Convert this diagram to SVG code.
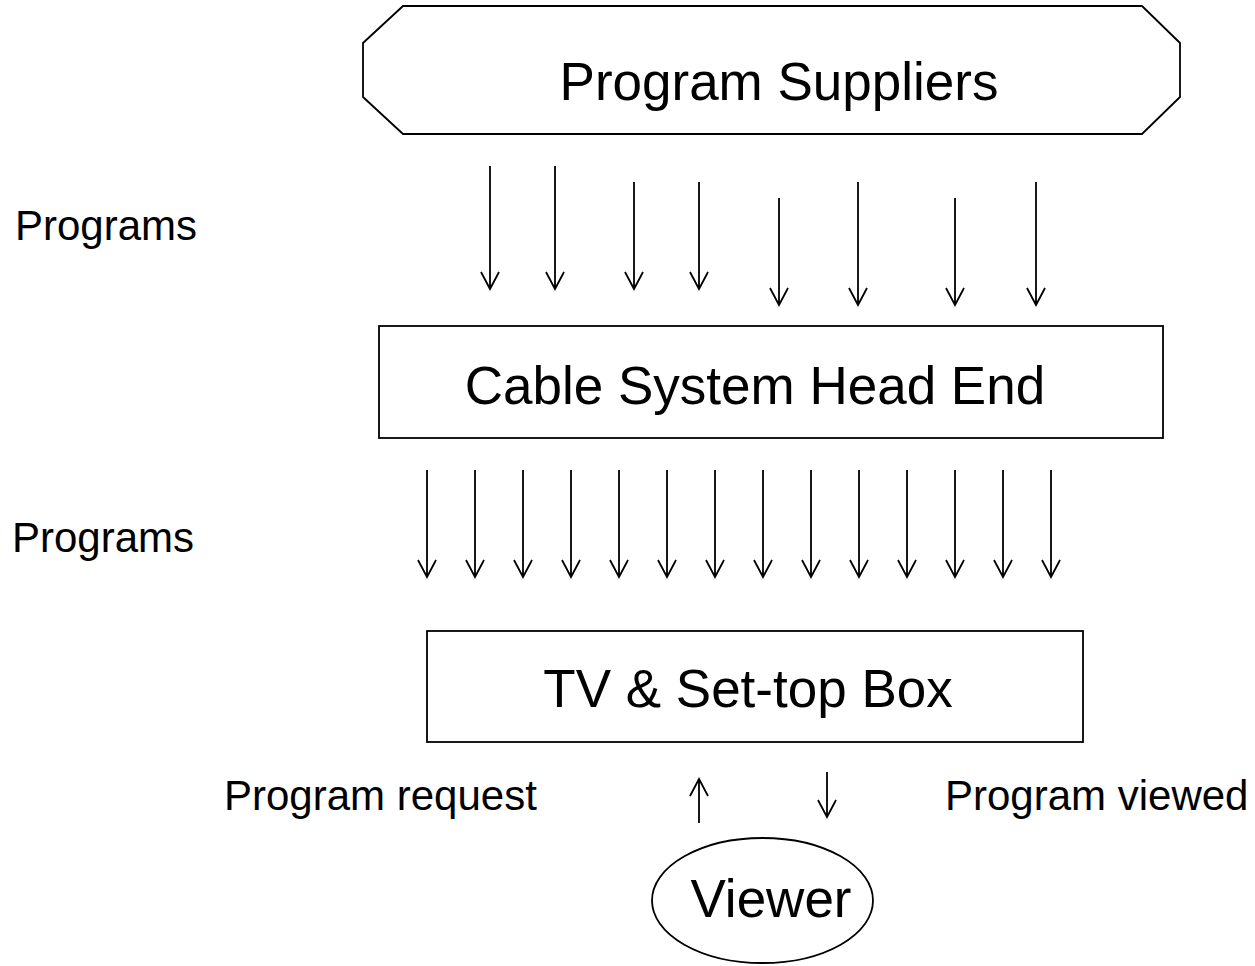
<svg xmlns="http://www.w3.org/2000/svg" width="1255" height="966" viewBox="0 0 1255 966">
<style>
.shape{fill:#fff;stroke:#000;stroke-width:1.8}
.big{font-family:"Liberation Sans",Arial,sans-serif;font-size:53px;fill:#000;text-anchor:middle}
.small{font-family:"Liberation Sans",Arial,sans-serif;font-size:42px;fill:#000}
.arr{fill:none;stroke:#000;stroke-width:1.8}
</style>
<rect width="1255" height="966" fill="#fff"/>
<g id="program-suppliers">
<polygon class="shape" points="403,6 1142,6 1180,43 1180,97 1142,134 403,134 363,97 363,43"/>
<text class="big" x="779" y="100">Program Suppliers</text>
</g>
<g id="cable-head-end">
<rect class="shape" x="379" y="326" width="784" height="112"/>
<text class="big" x="755" y="404">Cable System Head End</text>
</g>
<g id="tv-settop">
<rect class="shape" x="427" y="631" width="656" height="111"/>
<text class="big" x="748" y="707">TV &amp; Set-top Box</text>
</g>
<g id="viewer">
<ellipse class="shape" cx="762.5" cy="900.5" rx="110.5" ry="62.5"/>
<text class="big" x="771" y="917">Viewer</text>
</g>
<g id="labels">
<text class="small" x="15" y="240">Programs</text>
<text class="small" x="12" y="552">Programs</text>
<text class="small" x="224" y="810">Program request</text>
<text class="small" x="945" y="810">Program viewed</text>
</g>
<g id="connectors" class="arr">
<path d="M490,166V289M481,272L490,289L499,272"/>
<path d="M555,166V289M546,272L555,289L564,272"/>
<path d="M634,182V289M625,272L634,289L643,272"/>
<path d="M699,182V289M690,272L699,289L708,272"/>
<path d="M779,198V305M770,288L779,305L788,288"/>
<path d="M858,182V305M849,288L858,305L867,288"/>
<path d="M955,198V305M946,288L955,305L964,288"/>
<path d="M1036,182V305M1027,288L1036,305L1045,288"/>
<path d="M427,470V577M418,560L427,577L436,560"/>
<path d="M475,470V577M466,560L475,577L484,560"/>
<path d="M523,470V577M514,560L523,577L532,560"/>
<path d="M571,470V577M562,560L571,577L580,560"/>
<path d="M619,470V577M610,560L619,577L628,560"/>
<path d="M667,470V577M658,560L667,577L676,560"/>
<path d="M715,470V577M706,560L715,577L724,560"/>
<path d="M763,470V577M754,560L763,577L772,560"/>
<path d="M811,470V577M802,560L811,577L820,560"/>
<path d="M859,470V577M850,560L859,577L868,560"/>
<path d="M907,470V577M898,560L907,577L916,560"/>
<path d="M955,470V577M946,560L955,577L964,560"/>
<path d="M1003,470V577M994,560L1003,577L1012,560"/>
<path d="M1051,470V577M1042,560L1051,577L1060,560"/>
<path d="M699,823V779M690,796L699,779L708,796"/>
<path d="M827,772V817M818,800L827,817L836,800"/>
</g>
</svg>
